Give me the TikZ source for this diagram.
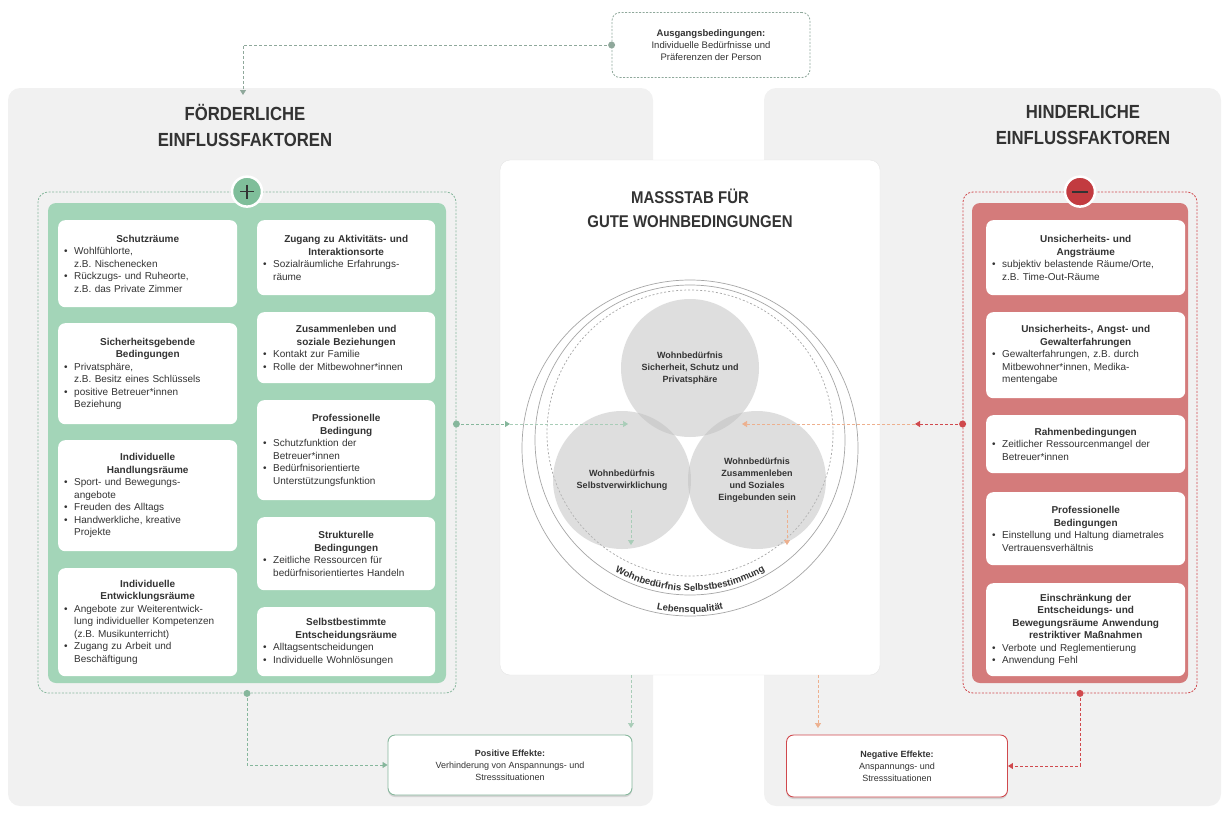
\documentclass[tikz,border=0pt]{standalone}
\usepackage{fontspec}
\setmainfont{Liberation Sans}
\newfontfamily\titlefont[FakeStretch=0.88]{Liberation Sans}
\usetikzlibrary{positioning,calc,arrows.meta,decorations.text,shadows}

\definecolor{panelgray}{HTML}{F1F1F1}
\definecolor{mint}{HTML}{A3D5B8}
\definecolor{mintdark}{HTML}{7FBE9A}
\definecolor{mintline}{HTML}{86B79C}
\definecolor{mintlt}{HTML}{A9CDB8}
\definecolor{rose}{HTML}{D47B7B}
\definecolor{rosedark}{HTML}{C23B40}
\definecolor{roseline}{HTML}{D0494D}
\definecolor{orangelt}{HTML}{EDB08E}
\definecolor{flowgray}{HTML}{8FA89B}
\definecolor{ink}{HTML}{333333}

\newcommand{\hd}[1]{{\centering\bfseries #1\par}}
\newcommand{\itm}[1]{\par\hangindent=1em\hangafter=1\noindent\makebox[1em][l]{\textbullet}{\def\\{\hfil\break}#1}\par}

\begin{document}
\begin{tikzpicture}[x=1pt,y=-1pt,
  card/.style={fill=white,rounded corners=7pt,anchor=north west,inner xsep=6pt,inner ysep=3pt,
    align=left,text=ink,font=\fontsize{10}{12.5}\selectfont},
  lcard/.style={card,text width=167pt},
  rcard/.style={card,text width=166pt},
  ncard/.style={card,text width=187pt},
  headline/.style={align=center,text=ink,font=\titlefont\bfseries\fontsize{19}{26}\selectfont},
  disc/.style={circle,fill=black!25,fill opacity=.5,text opacity=1,minimum size=138pt,inner sep=0pt,
    align=center,text=ink,font=\bfseries\fontsize{9}{12}\selectfont},
  joint/.style={circle,fill=#1,inner sep=0pt,minimum size=7pt},
  flow/.style={densely dashed,line width=.8pt,draw=#1,-{Triangle[length=5pt,width=6pt]}},
  group/.style={draw=#1,dash pattern=on 2pt off 1.5pt,line width=.8pt,rounded corners=10pt},
  effect/.style={fill=white,draw=#1,line width=.9pt,rounded corners=7pt,align=center,text=ink,
    font=\fontsize{9}{12}\selectfont,drop shadow={opacity=.25,shadow xshift=0pt,shadow yshift=-2pt}}
]
\useasboundingbox (0,0) rectangle (1229,814);

% panels
\fill[panelgray,rounded corners=12pt] (8,88) rectangle (653,806);
\fill[panelgray,rounded corners=12pt] (764,88) rectangle (1221,806);

% starting conditions
\node[draw=flowgray,dash pattern=on 2pt off 1.5pt,line width=.8pt,rounded corners=8pt,
  minimum width=198pt,minimum height=65pt,align=center,text=ink,font=\fontsize{9.5}{12}\selectfont]
  (aus) at (711,45) {\textbf{Ausgangsbedingungen:}\\Individuelle Bedürfnisse und\\Präferenzen der Person};

\node[headline] (ftitle) at (245,125) {FÖRDERLICHE\\EINFLUSSFAKTOREN};
\node[headline] (htitle) at (1083,125) {HINDERLICHE\\EINFLUSSFAKTOREN};

% left group
\node[group=mintline,minimum width=418pt,minimum height=501pt] (fgroup) at (247,442.5) {};
\fill[mint,rounded corners=8pt] (48,203) rectangle (446,683);
\node[circle,fill=mintdark,draw=white,line width=2.5pt,minimum size=30pt] (plus) at (fgroup.north) {};
\draw[ink,line width=1.6pt] ($(plus)+(-7,0)$) -- ($(plus)+(7,0)$) ($(plus)+(0,-7)$) -- ($(plus)+(0,7)$);

\node[lcard,minimum height=87pt] (schutz) at (58,220) {\hd{Schutzräume}
  \itm{Wohlfühlorte,\\z.B. Nischenecken}
  \itm{Rückzugs- und Ruheorte,\\z.B. das Private Zimmer}};
\node[lcard,minimum height=101pt] (sicher) at (58,323) {\hd{Sicherheitsgebende\\Bedingungen}
  \itm{Privatsphäre,\\z.B. Besitz eines Schlüssels}
  \itm{positive Betreuer*innen\\Beziehung}};
\node[lcard,minimum height=111pt] (handl) at (58,440) {\hd{Individuelle\\Handlungsräume}
  \itm{Sport- und Bewegungs-\\angebote}
  \itm{Freuden des Alltags}
  \itm{Handwerkliche, kreative\\Projekte}};
\node[lcard,minimum height=108pt] (entw) at (58,568) {\hd{Individuelle\\Entwicklungsräume}
  \itm{Angebote zur Weiterentwick-\\lung individueller Kompetenzen\\(z.B. Musikunterricht)}
  \itm{Zugang zu Arbeit und\\Beschäftigung}};

\node[rcard,minimum height=75pt] (zugang) at (257,220) {\hd{Zugang zu Aktivitäts- und\\Interaktionsorte}
  \itm{Sozialräumliche Erfahrungs-\\räume}};
\node[rcard,minimum height=71pt] (zusam) at (257,312) {\hd{Zusammenleben und\\soziale Beziehungen}
  \itm{Kontakt zur Familie}
  \itm{Rolle der Mitbewohner*innen}};
\node[rcard,minimum height=100pt] (prof) at (257,400) {\hd{Professionelle\\Bedingung}
  \itm{Schutzfunktion der\\Betreuer*innen}
  \itm{Bedürfnisorientierte\\Unterstützungsfunktion}};
\node[rcard,minimum height=73pt] (strukt) at (257,517) {\hd{Strukturelle\\Bedingungen}
  \itm{Zeitliche Ressourcen für\\bedürfnisorientiertes Handeln}};
\node[rcard,minimum height=69pt] (selbst) at (257,607) {\hd{Selbstbestimmte\\Entscheidungsräume}
  \itm{Alltagsentscheidungen}
  \itm{Individuelle Wohnlösungen}};

% right group
\node[group=roseline,minimum width=234pt,minimum height=501pt] (hgroup) at (1080,442.5) {};
\fill[rose,rounded corners=8pt] (972,203) rectangle (1188,683);
\node[circle,fill=rosedark,draw=white,line width=2.5pt,minimum size=30pt] (minus) at (hgroup.north) {};
\draw[ink,line width=1.8pt] ($(minus)+(-8,0)$) -- ($(minus)+(8,0)$);

\node[ncard,minimum height=75pt] (angst) at (986,220) {\hd{Unsicherheits- und\\Angsträume}
  \itm{subjektiv belastende Räume/Orte,\\z.B. Time-Out-Räume}};
\node[ncard,minimum height=86pt] (gewalt) at (986,312) {\hd{Unsicherheits-, Angst- und\\Gewalterfahrungen}
  \itm{Gewalterfahrungen, z.B. durch\\Mitbewohner*innen, Medika-\\mentengabe}};
\node[ncard,minimum height=58pt] (rahmen) at (986,415) {\hd{Rahmenbedingungen}
  \itm{Zeitlicher Ressourcenmangel der\\Betreuer*innen}};
\node[ncard,minimum height=73pt] (hprof) at (986,492) {\hd{Professionelle\\Bedingungen}
  \itm{Einstellung und Haltung diametrales\\Vertrauensverhältnis}};
\node[ncard,minimum height=93pt] (einschr) at (986,583) {\hd{Einschränkung der\\Entscheidungs- und\\Bewegungsräume Anwendung\\restriktiver Maßnahmen}
  \itm{Verbote und Reglementierung}
  \itm{Anwendung Fehl}};

% centre
\node[fill=white,draw=black!10,rounded corners=10pt,minimum width=380pt,minimum height=515pt] (mass) at (690,417.5) {};
\node[headline,font=\titlefont\bfseries\fontsize{17}{24}\selectfont] (masstitle) at (690,208) {MASSSTAB FÜR\\GUTE WOHNBEDINGUNGEN};

\draw[black!35,line width=.7pt] (690,448) circle[radius=168];
\draw[black!35,line width=.7pt] (690,440) circle[radius=155];
\draw[black!35,line width=.7pt,dash pattern=on 2pt off 2pt] (690,433) circle[radius=143];
\path[decorate,decoration={text along path,text align=center,
  text={|\bfseries\fontsize{9.5}{10}\selectfont\color{ink}|Wohnbedürfnis Selbstbestimmung}}]
  ($(690,440)+(150:151)$) arc[start angle=150,end angle=30,radius=151];
\path[decorate,decoration={text along path,text align=center,
  text={|\bfseries\fontsize{9.5}{10}\selectfont\color{ink}|Lebensqualität}}]
  ($(690,448)+(120:164.5)$) arc[start angle=120,end angle=60,radius=164.5];

\node[disc] (sich) at (690,368) {Wohnbedürfnis\\Sicherheit, Schutz und\\Privatsphäre};
\node[disc] (verw) at (622,480) {Wohnbedürfnis\\Selbstverwirklichung};
\node[disc] (einb) at (757,480) {Wohnbedürfnis\\Zusammenleben\\und Soziales\\Eingebunden sein};

% effects
\node[effect=mintline,minimum width=244pt,minimum height=60pt] (pos) at (510,765)
  {\textbf{Positive Effekte:}\\Verhinderung von Anspannungs- und\\Stresssituationen};
\node[effect=roseline,minimum width=221pt,minimum height=62pt] (neg) at (897,766)
  {\textbf{Negative Effekte:}\\Anspannungs- und\\Stresssituationen};

% connectors
\coordinate (fdin) at (243,95);
\draw[flow=flowgray] (aus.west) -| (fdin);
\node[joint=flowgray] (ausdot) at (aus.west) {};

\coordinate (lmid) at (510,424);
\coordinate (lend) at (628,424);
\draw[flow=mintline] (fgroup.east |- lmid) -- (lmid);
\draw[flow=mintlt,line width=.6pt] (lmid) -- (lend);
\node[joint=mintline] (fdot) at (fgroup.east |- lmid) {};

\coordinate (rmid) at (915,424);
\coordinate (rend) at (742,424);
\draw[flow=roseline] (hgroup.west |- rmid) -- (rmid);
\draw[flow=orangelt,line width=.6pt] (rmid) -- (rend);
\node[joint=roseline] (hdot) at (hgroup.west |- rmid) {};

\coordinate (va) at (631,510);
\coordinate (vb) at (631,545);
\coordinate (ea) at (787,510);
\coordinate (eb) at (787,545);
\draw[flow=mintlt,line width=.6pt] (va) -- (vb);
\draw[flow=orangelt,line width=.6pt] (ea) -- (eb);

\coordinate (pa) at (631,728);
\coordinate (na) at (818,728);
\draw[flow=mintlt,line width=.6pt] (mass.south -| pa) -- (pa);
\draw[flow=orangelt,line width=.6pt] (mass.south -| na) -- (na);

\draw[flow=mintline] (fgroup.south) |- (pos.west);
\node[joint=mintline] (fbot) at (fgroup.south) {};
\draw[flow=roseline] (hgroup.south) |- (neg.east);
\node[joint=roseline] (hbot) at (hgroup.south) {};
\end{tikzpicture}
\end{document}
